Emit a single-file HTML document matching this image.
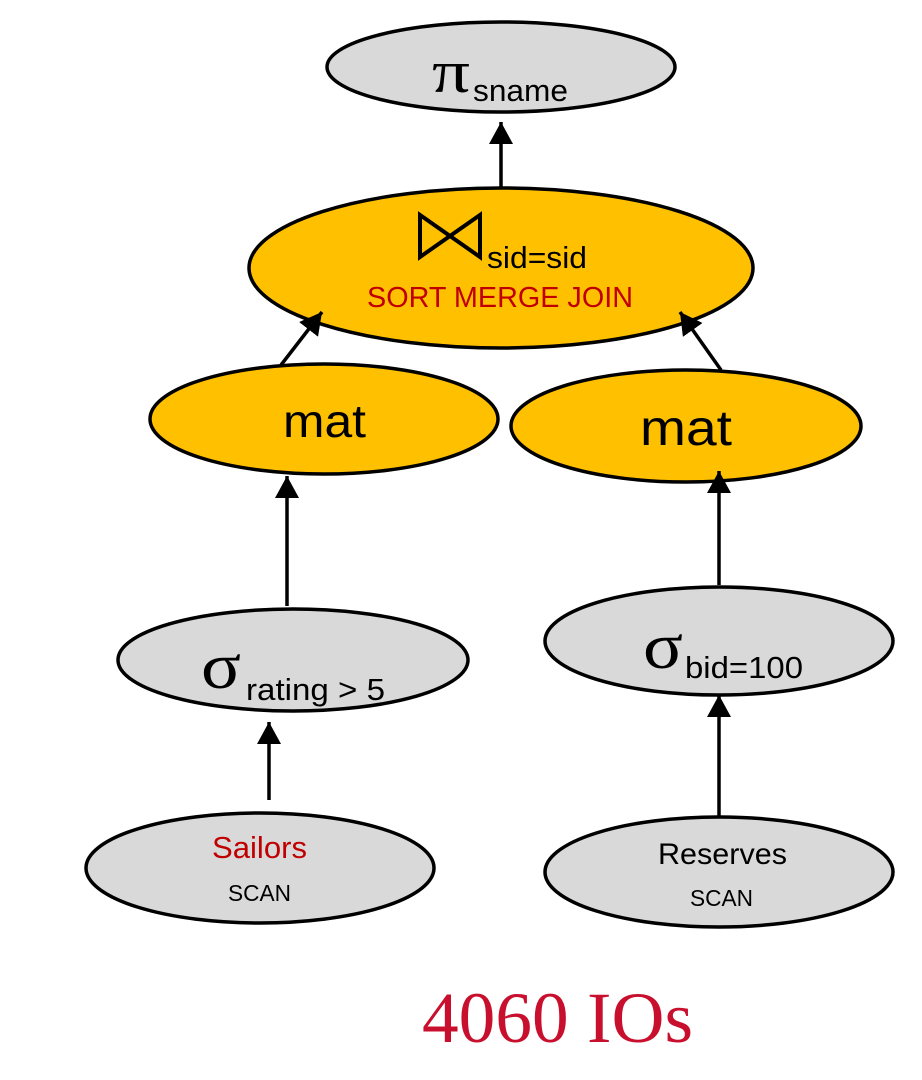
<!DOCTYPE html>
<html><head><meta charset="utf-8"><style>
html,body{margin:0;padding:0;background:#fff;width:922px;height:1080px;overflow:hidden}
svg text{font-family:"Liberation Sans","DejaVu Sans",sans-serif}
.s{font-family:"Liberation Serif",serif !important}
</style></head><body>
<svg width="922" height="1080" viewBox="0 0 922 1080" xmlns="http://www.w3.org/2000/svg">
<defs>
<marker id="a" markerWidth="22" markerHeight="24" refX="22" refY="12" orient="auto" markerUnits="userSpaceOnUse" viewBox="0 0 22 24">
<path d="M0,0 L22,12 L0,24 z" fill="#000"/>
</marker>
</defs>
<g stroke="#000" stroke-width="3.5">
<ellipse cx="501" cy="67" rx="174" ry="45" fill="#d9d9d9"/>
<ellipse cx="501" cy="268" rx="252" ry="80" fill="#ffc000"/>
<ellipse cx="324" cy="419" rx="174" ry="55" fill="#ffc000"/>
<ellipse cx="686" cy="426" rx="175" ry="56" fill="#ffc000"/>
<ellipse cx="293" cy="660" rx="175" ry="51" fill="#d9d9d9"/>
<ellipse cx="719" cy="641" rx="174" ry="54" fill="#d9d9d9"/>
<ellipse cx="260" cy="868" rx="174" ry="55" fill="#d9d9d9"/>
<ellipse cx="719" cy="872" rx="174" ry="55" fill="#d9d9d9"/>
</g>
<g stroke="#000" stroke-width="3.5" fill="none" marker-end="url(#a)">
<line x1="501" y1="188" x2="501" y2="122"/>
<line x1="281" y1="365" x2="322" y2="312"/>
<line x1="721" y1="370" x2="680" y2="312"/>
<line x1="287" y1="606" x2="287" y2="476"/>
<line x1="719" y1="585" x2="719" y2="471"/>
<line x1="269" y1="800" x2="269" y2="722"/>
<line x1="719" y1="818" x2="719" y2="695"/>
</g>
<text x="432" y="92" class="s" font-size="60" textLength="38" lengthAdjust="spacingAndGlyphs">π</text>
<text x="473" y="101" font-size="31" textLength="95" lengthAdjust="spacingAndGlyphs">sname</text>
<path d="M420,215 L420,257 L480,215 L480,257 z" fill="none" stroke="#000" stroke-width="4" stroke-linejoin="miter"/>
<text x="487" y="268" font-size="31" textLength="100" lengthAdjust="spacingAndGlyphs">sid=sid</text>
<text x="367" y="307" font-size="29" fill="#c00000" textLength="266" lengthAdjust="spacingAndGlyphs">SORT MERGE JOIN</text>
<text x="283" y="437" font-size="46" textLength="83" lengthAdjust="spacingAndGlyphs">mat</text>
<text x="640" y="445" font-size="50" textLength="92" lengthAdjust="spacingAndGlyphs">mat</text>
<text x="201" y="688" class="s" font-size="66" textLength="40" lengthAdjust="spacingAndGlyphs">σ</text>
<text x="246" y="700" font-size="31" textLength="139" lengthAdjust="spacingAndGlyphs">rating &gt; 5</text>
<text x="643" y="668" class="s" font-size="66" textLength="40" lengthAdjust="spacingAndGlyphs">σ</text>
<text x="685" y="678" font-size="31" textLength="118" lengthAdjust="spacingAndGlyphs">bid=100</text>
<text x="212" y="858" font-size="31" fill="#c00000" textLength="95" lengthAdjust="spacingAndGlyphs">Sailors</text>
<text x="228" y="901" font-size="23" textLength="63" lengthAdjust="spacingAndGlyphs">SCAN</text>
<text x="658" y="864" font-size="30" textLength="129" lengthAdjust="spacingAndGlyphs">Reserves</text>
<text x="690" y="906" font-size="23" textLength="63" lengthAdjust="spacingAndGlyphs">SCAN</text>
<text x="422" y="1042" class="s" font-size="72" fill="#c8102e" textLength="271" lengthAdjust="spacingAndGlyphs">4060 IOs</text>
</svg>
</body></html>
